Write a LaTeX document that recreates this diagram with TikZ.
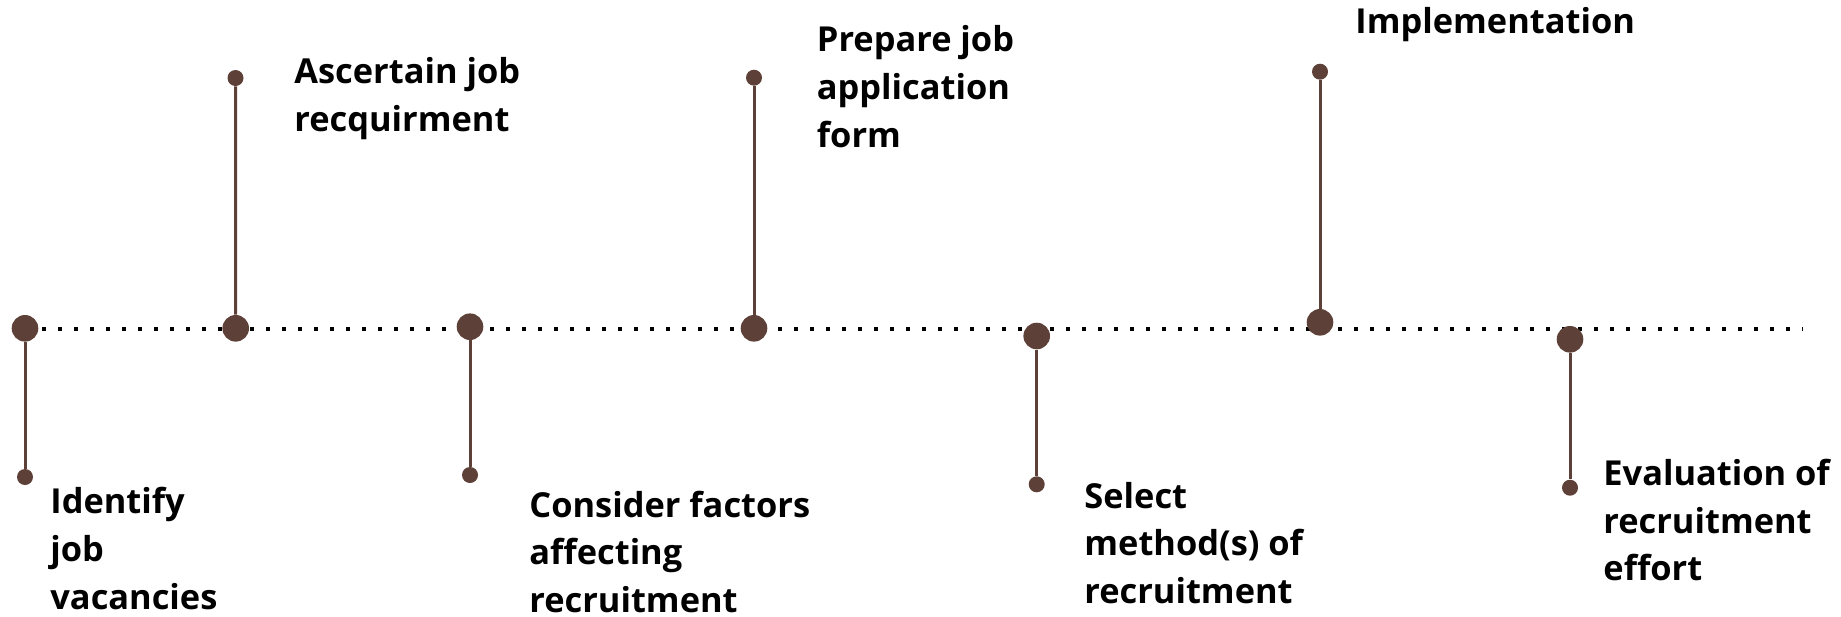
\documentclass[tikz,border=0pt]{standalone}
\usepackage{xcolor}
\usepackage{fontspec}
\setmainfont{Open Sans}
\usepackage{tikz}
\usetikzlibrary{positioning}
\definecolor{bark}{HTML}{5D4037}

\begin{document}
\begin{tikzpicture}[
 x=0.5pt,y=-0.5pt,
 bigdot/.style={circle,fill=bark,inner sep=0pt,minimum size=13.3pt},
 smalldot/.style={circle,fill=bark,inner sep=0pt,minimum size=8pt},
 stem/.style={draw=bark,line width=1.5pt},
 axis/.style={draw=black,line width=2pt,dash pattern=on 2pt off 6pt},
 lbl/.style={anchor=north west,inner sep=0pt,align=left,text=black,
  font=\fontsize{17.2pt}{23.85pt}\selectfont\bfseries}
]
\useasboundingbox (0,0) rectangle (1841,616);
\coordinate (axisL) at (26,329);
\coordinate (axisR) at (1803,329);
\draw[axis] (axisL)--(axisR);

\node[bigdot] (m1) at (25,328.3) {};
\node[bigdot] (m2) at (235.7,328.3) {};
\node[bigdot] (m3) at (470,326.7) {};
\node[bigdot] (m4) at (754,328.3) {};
\node[bigdot] (m5) at (1036.7,336) {};
\node[bigdot] (m6) at (1320,322.3) {};
\node[bigdot] (m7) at (1570,339.3) {};

\node[smalldot] (p1) at (25,477) {};
\node[smalldot] (p2) at (235.5,78) {};
\node[smalldot] (p3) at (470,475) {};
\node[smalldot] (p4) at (754,77.7) {};
\node[smalldot] (p5) at (1036.7,484.3) {};
\node[smalldot] (p6) at (1320,71.7) {};
\node[smalldot] (p7) at (1570,487.7) {};

\draw[stem] (m1)--(p1);
\draw[stem] (m2)--(p2);
\draw[stem] (m3)--(p3);
\draw[stem] (m4)--(p4);
\draw[stem] (m5)--(p5);
\draw[stem] (m6)--(p6);
\draw[stem] (m7)--(p7);

\node[lbl] (identify) at (50,487) {Identify\\job\\vacancies};
\node[lbl] (ascertain) at (294,57) {Ascertain job\\recquirment};
\node[lbl] (consider) at (529,490.4) {Consider factors\\affecting\\recruitment};
\node[lbl] (prepare) at (816.5,25.4) {Prepare job\\application\\form};
\node[lbl] (select) at (1084,481.7) {Select\\method(s) of\\recruitment};
\node[lbl] (implement) at (1355,7) {Implementation};
\node[lbl] (evaluate) at (1603,458.7) {Evaluation of\\recruitment\\effort};
\end{tikzpicture}
\end{document}
